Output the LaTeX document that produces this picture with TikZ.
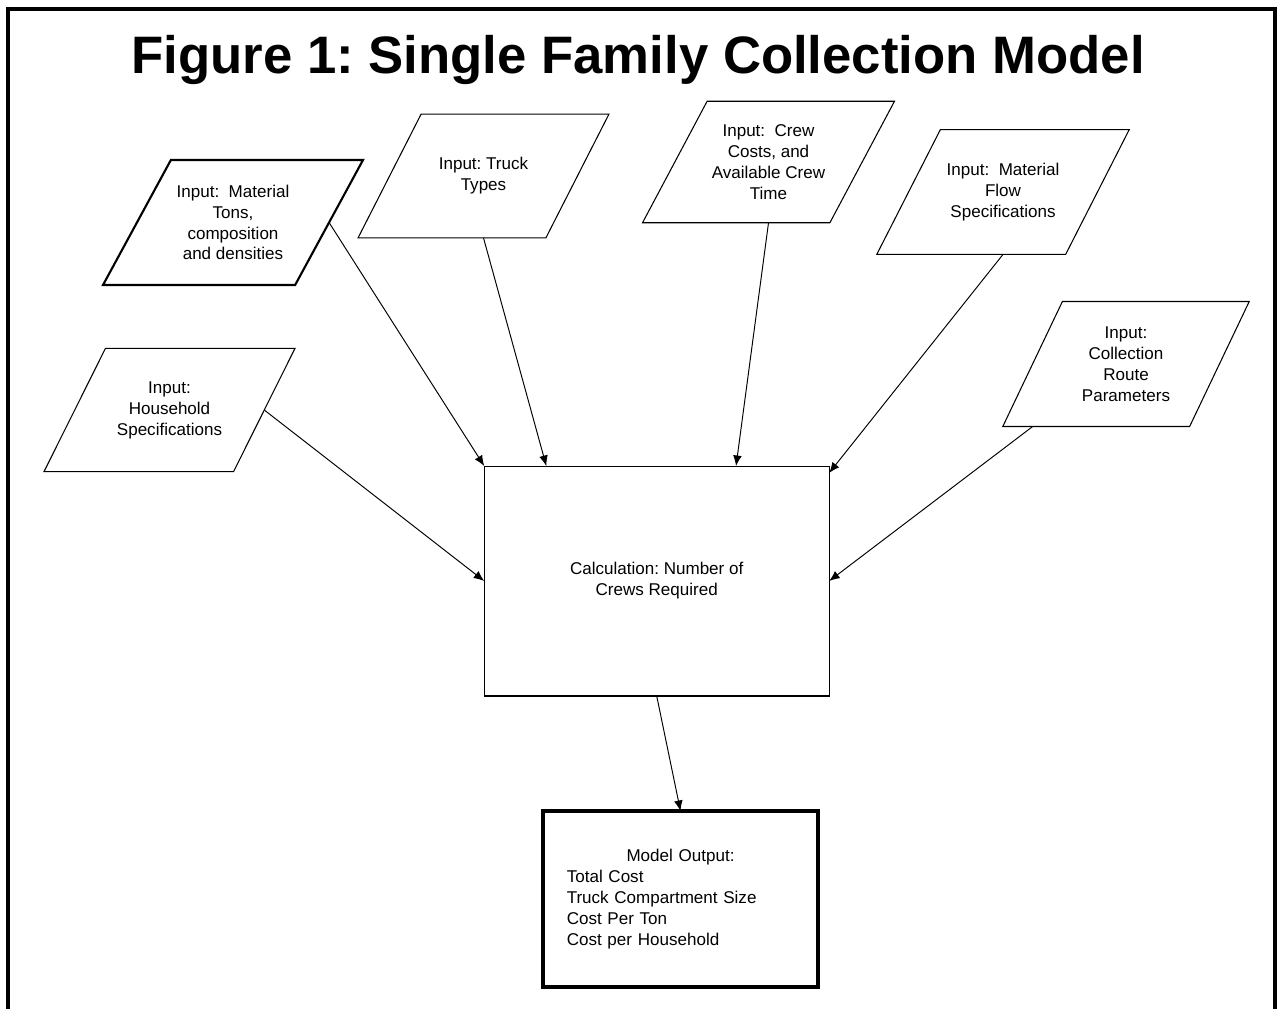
\documentclass[tikz,border=0pt]{standalone}
\usepackage{fontspec}
\setmainfont{Liberation Sans}
\usetikzlibrary{shapes.geometric,arrows.meta,calc}
\frenchspacing

\begin{document}
\begin{tikzpicture}[x=0.02cm,y=-0.02cm,
		>={Latex[length=6pt,width=5pt]},
		font=\fontsize{9.7}{11.9}\selectfont,
		inbox/.style={draw,trapezium,trapezium left angle=#1,trapezium right angle=180-#1,
			trapezium stretches body,align=center,inner xsep=0pt,outer sep=0pt,line width=0.6pt},
		calcbox/.style={draw,rectangle,align=center,inner sep=0pt,outer sep=0pt,line width=0.6pt},
		flow/.style={->,line width=0.55pt}]
			\useasboundingbox (0,0) rectangle (1277,1008);
			\draw[line width=2.3pt] (8,1015) -- (8,9) -- (1275,9) -- (1275,1015);
			\node[font=\bfseries\fontsize{30}{36}\selectfont,anchor=base] (title) at (638,73) {Figure 1: Single Family Collection Model};
			% inputs
			\node[inbox=61.5,line width=1.2pt,minimum width=5.2cm,inner ysep=0.497cm] (mat) at (233,222.5) {Input:\ \ Material\\Tons,\\composition\\and densities};
			\node[inbox=63,minimum width=5.02cm,inner ysep=0.871cm] (truck) at (483.5,176) {Input: Truck\\Types};
			\node[inbox=62,minimum width=5.04cm,inner ysep=0.467cm] (crew) at (768.5,162) {Input:\ \ Crew\\Costs, and\\Available Crew\\Time};
			\node[inbox=63,minimum width=5.05cm,inner ysep=0.671cm] (matflow) at (1003,192) {Input:\ \ Material\\Flow\\Specifications};
			\node[inbox=63.5,minimum width=5.02cm,inner ysep=0.661cm] (house) at (169.5,410) {Input:\\Household\\Specifications};
			\node[inbox=64.5,minimum width=4.93cm,inner ysep=0.504cm] (route) at (1126,364) {Input:\\Collection\\Route\\Parameters};
			% calculation and output
			\node[calcbox,minimum width=6.9cm,minimum height=4.6cm] (calc) at (656.7,581) {Calculation: Number of\\Crews Required};
			\node[calcbox,line width=2pt,minimum width=5.5cm,minimum height=3.52cm,text width=4.55cm,align=left] (out) at (680.5,899)
				{\makebox[\linewidth][c]{Model Output:}\\Total Cost\\Truck Compartment Size\\Cost Per Ton\\Cost per Household};
			\coordinate (calc-t1) at ($(calc.north west)!0.18!(calc.north east)$);
			\coordinate (calc-t2) at ($(calc.north west)!0.73!(calc.north east)$);
			\coordinate (calc-r1) at ($(calc.north east)!0.03!(calc.south east)$);
			\coordinate (route-b) at ($(route.bottom left corner)!0.16!(route.bottom right corner)$);
			\path[flow]
			(mat.east) edge (calc.north west)
			(truck.south) edge (calc-t1)
			(crew.south) edge (calc-t2)
			(matflow.south) edge (calc-r1)
			(house.east) edge (calc.west)
			(route-b) edge (calc.east)
			(calc.south) edge (out.north);
		\end{tikzpicture}
\end{document}
